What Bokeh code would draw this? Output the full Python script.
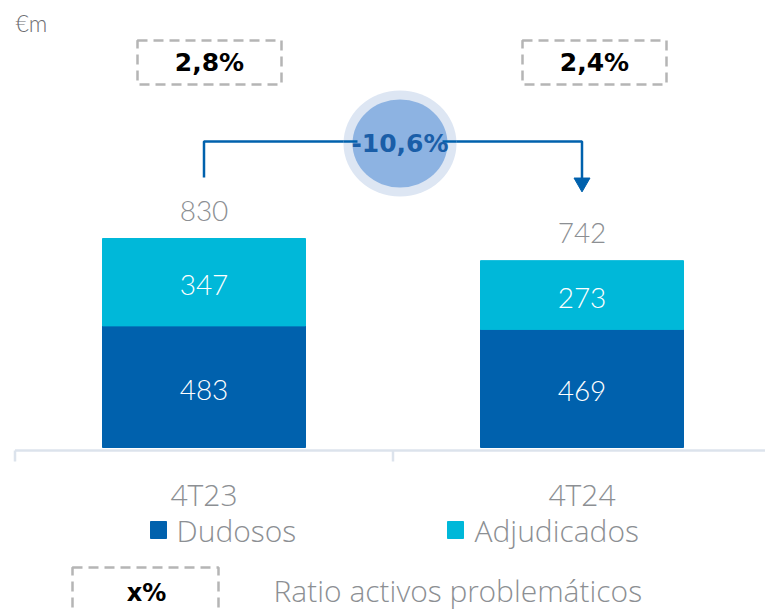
from bokeh.plotting import figure
from bokeh.models import ColumnDataSource
from bokeh.core.properties import value
from bokeh.embed import file_html
from bokeh.resources import INLINE

# ---- data ----
categories = ["4T23", "4T24"]
dudosos = [483, 469]
adjudicados = [347, 273]
ratios = ["2,8%", "2,4%"]
change_label = "-10,6%"
unit_label = "€m"
legend_labels = ["Dudosos", "Adjudicados"]
ratio_legend = "Ratio activos problemáticos"

totals = [d + a for d, a in zip(dudosos, adjudicados)]

# ---- layout ----
W, H = 765, 612
OFF = 0
PX_PER_X = 378.0          # pixels per category step
X0_PX = 203.5             # canvas px of category 0
PX_PER_UNIT = 209.0 / 830  # pixels per €m
BASE_PX = 447.0           # canvas px of value 0

x_start = -X0_PX / PX_PER_X
x_end = (W - X0_PX) / PX_PER_X
y_top = BASE_PX / PX_PER_UNIT
y_bot = -(H - BASE_PX) / PX_PER_UNIT


def gx(page_x):
    return (page_x - OFF - X0_PX) / PX_PER_X


def gy(page_y):
    return (BASE_PX - (page_y - OFF)) / PX_PER_UNIT


def dy(px):
    return px / PX_PER_UNIT


DARK = "#0061AD"
CYAN = "#00B8D9"
GREY = "#8C8F93"
DASH = "#B5B5B5"
NUMFONT = value("Lato Light")
BOLDFONT = value("DejaVu Sans")
TXTFONT = value("Open Sans Light")

p = figure(width=W, height=H, output_backend="svg", toolbar_location=None,
           x_range=(x_start, x_end), y_range=(y_bot, y_top),
           min_border=0, outline_line_color=None, tools="")
p.axis.visible = False
p.grid.visible = False
p.background_fill_color = "white"
p.border_fill_color = "white"

xs = list(range(len(categories)))
src = ColumnDataSource(dict(
    x=xs, dud=dudosos, adj=adjudicados, tot=totals,
    dud_mid=[d / 2 for d in dudosos],
    adj_mid=[d + a / 2 for d, a in zip(dudosos, adjudicados)],
    tot_lab=[t + dy(28) for t in totals],
    dud_txt=[str(v) for v in dudosos],
    adj_txt=[str(v) for v in adjudicados],
    tot_txt=[str(v) for v in totals],
    cat=categories,
    cat_y=[gy(494)] * len(categories),
))

BW = 203 / PX_PER_X
p.vbar(x="x", bottom=0, top="dud", width=BW, color=DARK, source=src)
p.vbar(x="x", bottom="dud", top="tot", width=BW, color=CYAN, source=src)

# axis line + separators
p.segment(x0=[-0.5], y0=[gy(450)], x1=[x_end + 1], y1=[gy(450)],
          line_color="#DCE3EC", line_width=2.5)
p.segment(x0=[-0.5, 0.5], y0=[gy(450), gy(450)], x1=[-0.5, 0.5], y1=[gy(461), gy(461)],
          line_color="#DCE3EC", line_width=2.5)

# value labels
p.text(x="x", y="dud_mid", text="dud_txt", source=src, text_color="white",
       text_font=NUMFONT, text_font_size="28px", text_align="center",
       text_baseline="middle", y_offset=3)
p.text(x="x", y="adj_mid", text="adj_txt", source=src, text_color="white",
       text_font=NUMFONT, text_font_size="28px", text_align="center",
       text_baseline="middle", y_offset=3)
p.text(x="x", y="tot_lab", text="tot_txt", source=src, text_color=GREY,
       text_font=NUMFONT, text_font_size="28px", text_align="center",
       text_baseline="middle")
p.text(x="x", y="cat_y", text="cat", source=src, text_color=GREY,
       text_font=TXTFONT, text_font_size="30px", text_align="center",
       text_baseline="middle")

# ratio boxes
box_x = [gx(209), gx(594)]
box_y = [gy(62)] * 2
p.rect(x=box_x, y=box_y, width=144, height=44, width_units="screen",
       height_units="screen", fill_alpha=0, line_color=DASH, line_width=2.5,
       line_dash="10 6")
p.text(x=box_x, y=box_y, text=ratios, text_color="black", text_font=BOLDFONT,
       text_font_style="bold", text_font_size="25px", text_align="center",
       text_baseline="middle")

# change arrow
p.line(x=[0, 0, 1, 1], y=[totals[0] + dy(61), gy(141), gy(141), totals[1] + dy(80)],
       line_color=DARK, line_width=2.5)
p.scatter(x=[1], y=[totals[1] + dy(78)], marker="inverted_triangle", size=16,
          color=DARK)
cx, cy = gx(399.5), gy(143)
p.ellipse(x=[cx], y=[cy], width=113, height=106, width_units="screen",
          height_units="screen", fill_color="#DDE6F3", line_color=None)
p.ellipse(x=[cx], y=[cy], width=95, height=88, width_units="screen",
          height_units="screen", fill_color="#8DB3E2", line_color=None)
p.line(x=[gx(343), gx(357)], y=[gy(141)] * 2, line_color=DARK, line_width=2.5)
p.line(x=[gx(442), gx(456)], y=[gy(141)] * 2, line_color=DARK, line_width=2.5)
p.text(x=[cx], y=[cy], text=[change_label], text_color="#1A5EA8",
       text_font=BOLDFONT, text_font_style="bold", text_font_size="25px",
       text_align="center", text_baseline="middle")

# unit label
p.text(x=[gx(15)], y=[gy(22)], text=[unit_label], text_color="#6D6E71",
       text_font=NUMFONT, text_font_size="23px", text_align="left",
       text_baseline="middle")

# legend
p.rect(x=[gx(158), gx(455)], y=[gy(529.5)] * 2, width=16, height=17,
       width_units="screen", height_units="screen", color=[DARK, CYAN])
p.text(x=[gx(176), gx(474)], y=[gy(530)] * 2, text=legend_labels,
       text_color=GREY, text_font=TXTFONT, text_font_size="30px",
       text_align="left", text_baseline="middle")

# ratio legend
p.rect(x=[gx(145)], y=[gy(600)], width=146, height=66, width_units="screen",
       height_units="screen", fill_alpha=0, line_color=DASH, line_width=2.5,
       line_dash="10 6")
p.text(x=[gx(146)], y=[gy(592)], text=["x%"], text_color="black",
       text_font=BOLDFONT, text_font_style="bold", text_font_size="24px",
       text_align="center", text_baseline="middle")
p.text(x=[gx(273)], y=[gy(590)], text=[ratio_legend], text_color=GREY,
       text_font=TXTFONT, text_font_size="30px", text_align="left",
       text_baseline="middle")

open("out.html", "w").write(file_html(p, INLINE))
